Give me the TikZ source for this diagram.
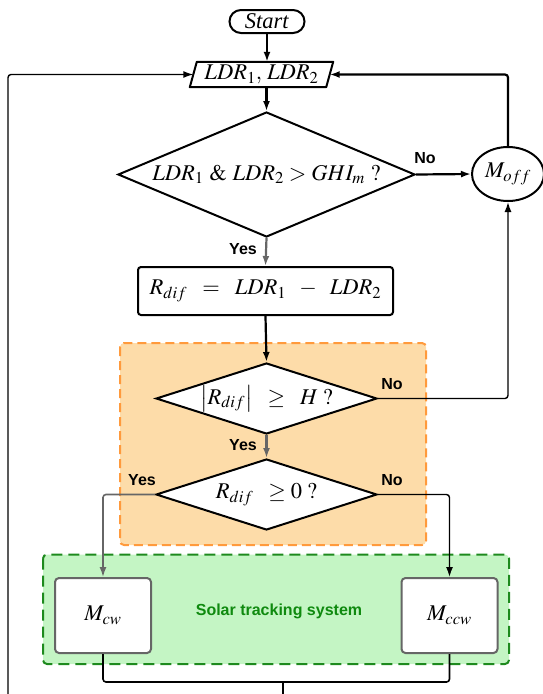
\documentclass[tikz,border=0pt]{standalone}
\usepackage{mathptmx}
\usepackage{fontspec}
\setmainfont{Liberation Serif}
\newfontfamily\labfont{Liberation Sans}
\usetikzlibrary{shapes.geometric,arrows.meta}
\definecolor{orfill}{HTML}{FDDCA9}
\definecolor{ordraw}{HTML}{FF9A3C}
\definecolor{grfill}{HTML}{C4F5C4}
\definecolor{grdraw}{HTML}{1E8A1E}
\definecolor{grtext}{HTML}{0F8A0F}
\definecolor{darkgray}{HTML}{666666}
\tikzset{
  mfont/.style={font=\fontsize{22.5}{26}\selectfont},
  outline/.style={draw=black, line width=2pt},
  startbox/.style={outline, mfont, rounded corners=11.5pt, minimum width=75pt, minimum height=23pt, inner sep=0pt},
  ldrbox/.style={mfont, minimum width=136pt, minimum height=25pt, inner sep=0pt},
  decision/.style={outline, diamond, fill=white, mfont, inner sep=0pt},
  procbox/.style={outline, mfont, rounded corners=3pt, fill=white, inner sep=0pt},
  mbox/.style={draw=darkgray, line width=2pt, rounded corners=4pt, fill=white, mfont, minimum width=96pt, minimum height=75pt, inner sep=0pt},
  lab/.style={font=\labfont\bfseries\fontsize{16}{18}\selectfont, inner sep=0pt},
  tip/.style={-{Latex[length=10pt,width=7pt]}},
  conn/.style={line width=2.2pt, tip},
  thinconn/.style={line width=1.4pt, tip},
  gconn/.style={line width=2.2pt, draw=darkgray, tip},
  gthinconn/.style={line width=1.6pt, draw=darkgray, tip},
  group/.style={line width=2pt, rounded corners=4pt},
}
\begin{document}
\begin{tikzpicture}[x=1pt,y=-1pt]
\useasboundingbox (0,0) rectangle (542,694);
% group backgrounds
\draw[group, dash pattern=on 9pt off 5pt, draw=ordraw, fill=orfill] (120,343) rectangle (426,545);
\draw[group, dash pattern=on 11pt off 6pt, draw=grdraw, fill=grfill] (43,554.5) rectangle (509,664);
% nodes
\node[startbox] (start) at (267,21.5) {\textit{Start}};
\node[ldrbox] (ldr) at (261.5,74.5) {$LDR_1,\,LDR_2$};
\draw[outline, line join=round] ([xshift=3.5pt]ldr.north west) -- ([xshift=3.5pt]ldr.north east)
  -- ([xshift=-3.5pt]ldr.south east) -- ([xshift=-3.5pt]ldr.south west) -- cycle;
\node[decision, aspect=2.376, minimum width=297pt, minimum height=125pt] (d1) at (266.5,174.5) {$LDR_1\ \&\ LDR_2 > GHI_m\ ?$};
\node[outline, ellipse, mfont, minimum width=72pt, minimum height=54pt, inner sep=0pt] (moff) at (508,174) {$M_{off}$};
\node[procbox, minimum width=255pt, minimum height=48pt] (rdif) at (265.5,291) {$R_{dif}\;\;=\;\;LDR_1\;\;-\;\;LDR_2$};
\node[decision, aspect=3.11, minimum width=221pt, minimum height=71pt] (d2) at (266.5,398.5) {$\left|R_{dif}\right|\;\;\geq\;\;H\;?$};
\node[decision, aspect=3.11, minimum width=221pt, minimum height=71pt] (d3) at (266.5,494.5) {$R_{dif}\;\;\geq 0\;?$};
\node[mbox] (mcw) at (103,615.5) {$M_{cw}$};
\node[mbox] (mccw) at (449.5,615.5) {$M_{ccw}$};
\node[font=\labfont\bfseries\fontsize{16}{18}\selectfont, text=grtext] (sts) at (279,611) {Solar tracking system};
% labels
\node[lab] (no1) at (425,158) {No};
\node[lab] (yes1) at (243,249) {Yes};
\node[lab] (no2) at (392,384) {No};
\node[lab] (yes2) at (243,445) {Yes};
\node[lab] (yes3) at (142,480) {Yes};
\node[lab] (no3) at (392,480) {No};
% coordinates
\coordinate (bl) at (8,694);
\coordinate (bc) at (283,694);
\coordinate (jn) at (283,682);
% connectors
\draw[conn] (start.south) -- (start.south |- ldr.north);
\draw[conn] (d1.north |- ldr.south) -- (d1.north);
\draw[conn] (d1.east) -- (moff.west);
\draw[conn, rounded corners=3pt] (moff.north) |- (ldr.east);
\draw[gconn] (d1.south) -- (rdif.north);
\draw[conn] (rdif.south) -- (d2.north);
\draw[thinconn, rounded corners=3pt] (d2.east) -| (moff.south);
\draw[gconn] (d2.south) -- (d3.north);
\draw[gthinconn, rounded corners=3pt] (d3.west) -| (mcw.north);
\draw[thinconn, rounded corners=3pt] (d3.east) -| (mccw.north);
\draw[line width=1.6pt, rounded corners=3pt] (mcw.south) |- (jn) -| (mccw.south);
\draw[line width=1.4pt] (jn) -- (bc);
\draw[thinconn, rounded corners=3pt] (bl) |- (ldr.west);
\end{tikzpicture}
\end{document}
